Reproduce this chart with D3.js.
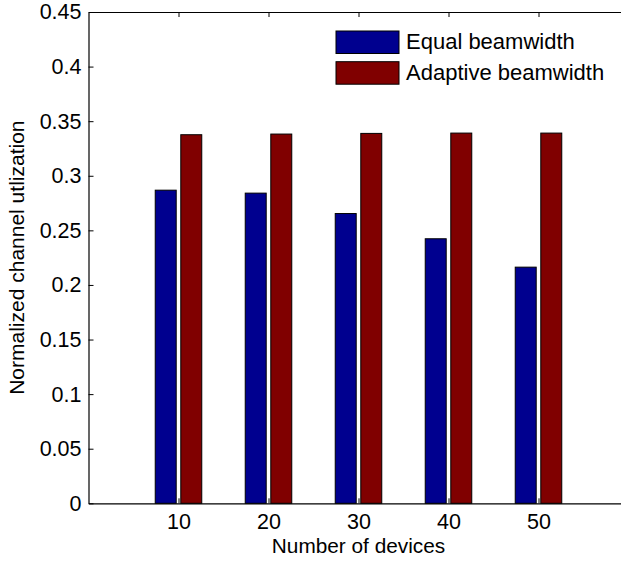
<!DOCTYPE html>
<html>
<head>
<meta charset="utf-8">
<script src="https://cdn.jsdelivr.net/npm/d3@7"></script>
<style>
  html, body { margin: 0; padding: 0; background: #fff; }
  svg { display: block; font-family: "Liberation Sans", Arial, Helvetica, sans-serif; }
</style>
</head>
<body>
<svg id="chart" width="621" height="563"></svg>
<script>
// Number of devices on the x axis
const devices = [10, 20, 30, 40, 50];
// Normalized channel utilization per scheme
const equalBeamwidth    = [0.2868, 0.2841, 0.2654, 0.2423, 0.2163];
const adaptiveBeamwidth = [0.3376, 0.3382, 0.3388, 0.3391, 0.3391];
const seriesNames  = ["Equal beamwidth", "Adaptive beamwidth"];
const seriesColors = ["#00008f", "#800000"];
// Axis ticks
const yTicks = [0, 0.05, 0.1, 0.15, 0.2, 0.25, 0.3, 0.35, 0.4, 0.45];
const yTickLabels = ["0", "0.05", "0.1", "0.15", "0.2", "0.25", "0.3", "0.35", "0.4", "0.45"];
const xTicks = [10, 20, 30, 40, 50];
const xTickLabels = ["10", "20", "30", "40", "50"];

const svg = d3.select("#chart");
const plot = { left: 88.5, right: 628.5, top: 12, bottom: 503.3 };

const x = d3.scaleLinear().domain([0, 60]).range([plot.left, plot.right]);
const y = d3.scaleLinear().domain([0, 0.45]).range([plot.bottom, plot.top]);

// Grouped bar geometry in data units of the x axis
const barWidthUnits = 2.33;
const barOffsets = [-1.42, 1.42];
const series = [equalBeamwidth, adaptiveBeamwidth];

const bars = svg.append("g");
series.forEach((vals, s) => {
  bars.selectAll(null)
    .data(devices.map((d, i) => ({ d, v: vals[i] })))
    .enter().append("rect")
    .attr("x", p => x(p.d + barOffsets[s] - barWidthUnits / 2))
    .attr("width", x(barWidthUnits) - x(0))
    .attr("y", p => y(p.v))
    .attr("height", p => y(0) - y(p.v))
    .attr("fill", seriesColors[s])
    .attr("stroke", "#000")
    .attr("stroke-width", 1);
});

// Axes: ticks point inward, box drawn around the plot
const tickLen = 5;
const fontTick = 21.5;

const yAxis = d3.axisLeft(y).tickValues(yTicks)
  .tickFormat((d, i) => yTickLabels[i])
  .tickSizeInner(-tickLen).tickSizeOuter(0).tickPadding(7);
const gy = svg.append("g").attr("transform", `translate(${plot.left},0)`).call(yAxis);

const yAxisR = d3.axisRight(y).tickValues(yTicks).tickFormat("")
  .tickSizeInner(-tickLen).tickSizeOuter(0);
const gyr = svg.append("g").attr("transform", `translate(${plot.right},0)`).call(yAxisR);

const xAxis = d3.axisBottom(x).tickValues(xTicks)
  .tickFormat((d, i) => xTickLabels[i])
  .tickSizeInner(-tickLen).tickSizeOuter(0).tickPadding(10.5);
const gx = svg.append("g").attr("transform", `translate(0,${plot.bottom})`).call(xAxis);

const xAxisT = d3.axisTop(x).tickValues(xTicks).tickFormat("")
  .tickSizeInner(-tickLen).tickSizeOuter(0);
const gxt = svg.append("g").attr("transform", `translate(0,${plot.top})`).call(xAxisT);

[gy, gyr, gx, gxt].forEach(g => {
  g.selectAll(".domain").attr("stroke", "#000").attr("stroke-width", 1.2);
  g.selectAll(".tick line").attr("stroke", "#000").attr("stroke-width", 1);
  g.selectAll(".tick text").attr("fill", "#000")
    .attr("font-size", fontTick)
    .attr("font-family", "Liberation Sans, Arial, sans-serif");
});
gx.selectAll(".tick text").attr("dy", "0.71em");

// Axis titles
svg.append("text")
  .attr("x", (plot.left + plot.right) / 2)
  .attr("y", 553)
  .attr("text-anchor", "middle")
  .attr("font-size", 20.8)
  .attr("fill", "#000")
  .text("Number of devices");

svg.append("text")
  .attr("transform", `translate(23.5,${(plot.top + plot.bottom) / 2}) rotate(-90)`)
  .attr("text-anchor", "middle")
  .attr("font-size", 21)
  .attr("fill", "#000")
  .text("Normalized channel utlization");

// Legend
const legend = svg.append("g");
seriesNames.forEach((name, i) => {
  const row = legend.append("g").attr("transform", `translate(336,${31 + i * 30.7})`);
  row.append("rect")
    .attr("width", 63).attr("height", 22.5)
    .attr("fill", seriesColors[i])
    .attr("stroke", "#000").attr("stroke-width", 1);
  row.append("text")
    .attr("x", 70).attr("y", 18.3)
    .attr("font-size", 22)
    .attr("fill", "#000")
    .text(name);
});
</script>
</body>
</html>
